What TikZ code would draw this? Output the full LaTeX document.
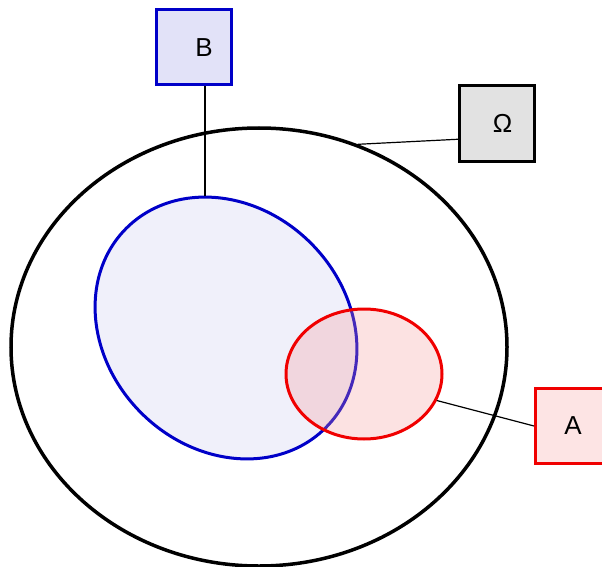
\documentclass[tikz,border=0pt]{standalone}
\usepackage{fontspec}
\setmainfont{Liberation Sans}
\usepackage{tikz}
\usetikzlibrary{shapes.geometric,positioning,calc}

\definecolor{setblue}{RGB}{0,0,200}
\definecolor{setred}{RGB}{240,0,0}
\definecolor{bluefill}{RGB}{240,240,250}
\definecolor{bboxfill}{RGB}{226,226,248}
\definecolor{redfill}{RGB}{245,150,150}
\definecolor{aboxfill}{RGB}{253,228,228}
\definecolor{oboxfill}{RGB}{226,226,226}

\begin{document}
\begin{tikzpicture}[x=1pt,y=-1pt,
    setshape/.style={ellipse,draw,line width=3pt,inner sep=0pt},
    labelbox/.style={rectangle,draw,line width=3pt,minimum size=75pt,inner sep=0pt,font=\fontsize{26}{30}\selectfont},
    link/.style={line width=1.2pt}]
    \useasboundingbox (0,0) rectangle (602,567);

    % Sets
    \node[setshape,line width=3.5pt,minimum width=496pt,minimum height=438pt] (omega) at (259,347) {};
    \node[setshape,draw=setblue,fill=bluefill,minimum width=282pt,minimum height=240pt,rotate=-45] (bset) at (226,328) {};
    \node[setshape,draw=setred,fill=redfill,fill opacity=0.28,minimum width=156pt,minimum height=130pt] (aset) at (364,374) {};

    % Labels
    \node[labelbox,draw=setblue,fill=bboxfill] (bbox) at (194,47.5) {\hspace*{20pt}\raisebox{-5pt}{B}};
    \node[labelbox,fill=oboxfill] (obox) at (497,123.5) {\hspace*{11pt}\raisebox{-2pt}{Ω}};
    \node[labelbox,draw=setred,fill=aboxfill] (abox) at (573,426) {A};

    % Connectors
    \draw[link] (bbox.south -| bset.144) -- (bset.144);
    \draw[link] (obox.202) -- (omega.64);
    \draw[link] (abox.west) -- (aset.-20);
\end{tikzpicture}
\end{document}
